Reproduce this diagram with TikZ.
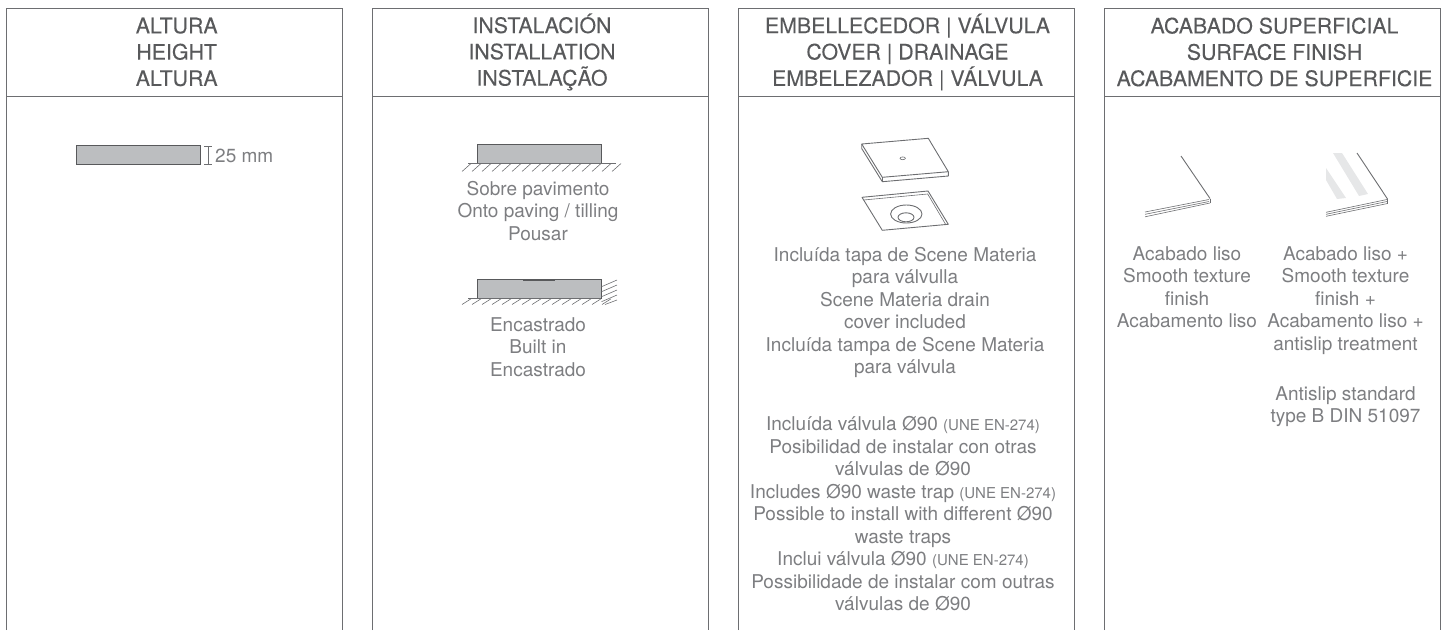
\documentclass[tikz,border=0pt]{standalone}
\usepackage{fontspec}
\setmainfont{TeX Gyre Heros}
\newfontfamily\headfont[FakeBold=0.12]{TeX Gyre Heros}
\definecolor{tx}{HTML}{58595B}
\definecolor{bx}{HTML}{7D7E81}
\definecolor{ln}{HTML}{6D6E71}
\definecolor{fillg}{HTML}{BCBEC0}
\definecolor{lg}{HTML}{E6E7E8}
\tikzset{x=1pt,y=-1pt,
 panel/.style={draw=ln,line width=1pt},
 head/.style={text=tx,font=\headfont\fontsize{21.3}{26.3}\selectfont,align=center,anchor=center,inner sep=0pt},
 body/.style={text=bx,font=\fontsize{19}{22.5}\selectfont,align=center,anchor=north,inner sep=0pt},
 icon/.style={draw=ln,line width=0.9pt,line join=round},
 fine/.style={draw=ln,line width=0.6pt},
 block/.style={draw=tx,line width=1pt,fill=fillg}}
\newcommand{\une}{{\fontsize{15}{22.5}\selectfont (UNE EN-274)}}
\begin{document}
\begin{tikzpicture}
\useasboundingbox (0,0) rectangle (1450,630);
% panels
\foreach \l/\r in {6/342,372/708,738/1074,1104/1440.5}{
  \draw[panel] (\l,630) -- (\l,8) -- (\r,8) -- (\r,630);
  \draw[panel] (\l,96) -- (\r,96);
}
% headers
\node[head] (h1) at (176.7,52) {ALTURA\\HEIGHT\\ALTURA};
\node[head] (h2) at (542,52) {INSTALACIÓN\\INSTALLATION\\INSTALAÇÃO};
\node[head] (h3) at (907.5,52) {EMBELLECEDOR | VÁLVULA\\COVER | DRAINAGE\\EMBELEZADOR | VÁLVULA};
\node[head] (h4) at (1274.5,52) {ACABADO SUPERFICIAL\\SURFACE FINISH\\ACABAMENTO DE SUPERFICIE};
% panel 1
\draw[block] (76,145.5) rectangle (200.5,164.5);
\draw[fine] (208,146) -- (208,164) (204,146) -- (212,146) (204,164) -- (212,164);
\node[body,anchor=west] (mm) at (215,156) {25 mm};
% panel 2 top
\draw[block] (477,144.5) rectangle (601,163);
\draw[fine] (468,163) -- (616,163);
\foreach \x in {471,481,...,621}{\draw[fine] (\x,163.5) -- (\x-9,171.5);}
\node[body] (t1) at (538,181) {Sobre pavimento\\Onto paving / tilling\\Pousar};
% panel 2 bottom
\draw[block] (477,279.5) rectangle (601,298.3);
\draw[draw=tx,line width=1.3pt] (523,280) -- (555,280);
\draw[fine] (468,298.3) -- (601,298.3);
\foreach \x in {471,481,...,611}{\draw[fine] (\x,298.8) -- (\x-9,304.5);}
\foreach \y in {286.7,291.7,296.7,301.7}{\draw[fine] (601.5,\y) -- (617,\y-6.7);}
\draw[fine] (605,304.5) -- (617,300);
\node[body] (t2) at (538,317) {Encastrado\\Built in\\Encastrado};
% panel 3 icon: cover
\draw[icon] (861.7,144) -- (928.3,138.3) -- (948.3,171.7) -- (882.3,177.3) -- cycle;
\draw[icon] (861.7,144) -- (861.7,148.5) -- (882.3,181.7) -- (948.3,176) -- (948.3,171.7);
\draw[icon] (882.3,177.3) -- (882.3,181.7);
\draw[fine] (902.7,158.3) ellipse (2.7 and 1.4);
% panel 3 icon: base
\draw[icon] (862,197.3) -- (928,191) -- (948.3,224.3) -- (882.3,230.3) -- cycle;
\draw[fine] (863.5,200) -- (927.7,194) -- (945.7,224.5);
\draw[icon] (906.3,214) ellipse (15.7 and 9);
\begin{scope}
 \clip (906.3,214) ellipse (15.7 and 9);
 \draw[icon] (906,217.3) ellipse (8 and 4.5);
\end{scope}
\node[body] (t3) at (905,247) {Incluída tapa de Scene Materia\\para válvulla\\Scene Materia drain\\cover included\\Incluída tampa de Scene Materia\\para válvula};
\node[body] (t4) at (903,416.5) {Incluída válvula Ø90 \une\\Posibilidad de instalar con otras\\válvulas de Ø90\\Includes Ø90 waste trap \une\\Possible to install with different Ø90\\waste traps\\Inclui válvula Ø90 \une\\Possibilidade de instalar com outras\\válvulas de Ø90};
% panel 4 left icon
\draw[icon] (1181,156) -- (1210,198.5);
\draw[fine] (1145,212) -- (1209,199.5) (1145,214.3) -- (1209,201.5) (1145,216.8) -- (1210,203);
\draw[fine] (1210,198.5) -- (1210,203);
% panel 4 right icon
\fill[lg] (1333,153) -- (1342,153) -- (1368,194) -- (1359,196) -- cycle;
\fill[lg] (1326,168) -- (1326,180) -- (1337,199) -- (1346,198) -- cycle;
\draw[icon] (1357,153) -- (1387.5,199);
\draw[fine] (1326,212.3) -- (1387,199.5) (1326,214.3) -- (1387,201.5) (1326,216.3) -- (1387.5,203.5);
\draw[fine] (1387.5,199) -- (1387.5,203.5);
\node[body] (t5) at (1187,246) {Acabado liso\\Smooth texture\\finish\\Acabamento liso};
\node[body] (t6) at (1345.5,246) {Acabado liso +\\Smooth texture\\finish +\\Acabamento liso +\\antislip treatment};
\node[body] (t7) at (1345.5,386) {Antislip standard\\type B DIN 51097};
\end{tikzpicture}
\end{document}
